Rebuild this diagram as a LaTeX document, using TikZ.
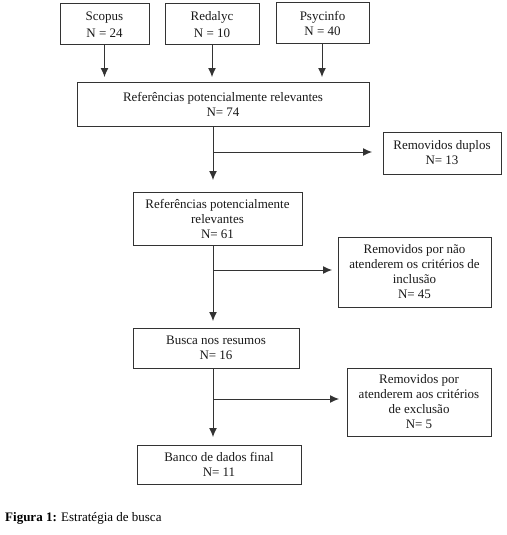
\documentclass[tikz,border=0pt]{standalone}
\usepackage{fontspec}
\setmainfont{Liberation Serif}
\usetikzlibrary{arrows.meta}
\begin{document}
\begin{tikzpicture}[x=1pt,y=-1pt,
  box/.style={draw=black!80, line width=1pt, align=center, inner sep=0pt,
    font=\fontsize{13}{15}\selectfont, text=black!90},
  conn/.style={draw=black!80, line width=1pt, -{Latex[length=9pt,width=8pt]}}]
\useasboundingbox (0,0) rectangle (506,535);
% top sources
\node[box, minimum width=89pt, minimum height=41pt] (sc) at (104.5,24.5) {Scopus\\[2.5pt]N = 24};
\node[box, minimum width=94pt, minimum height=41pt] (re) at (212,24.5) {Redalyc\\[2.5pt]N = 10};
\node[box, minimum width=93pt, minimum height=41pt] (ps) at (322.5,23.5) {Psycinfo\\N = 40};
\node[box, minimum width=292pt, minimum height=44pt] (r74) at (223,104) {Referências potencialmente relevantes\\N= 74};
\node[box, minimum width=118pt, minimum height=42pt] (dup) at (442,153) {Removidos duplos\\N= 13};
\node[box, minimum width=169pt, minimum height=53pt] (r61) at (217.5,218.5) {Referências potencialmente\\relevantes\\N= 61};
\node[box, minimum width=153pt, minimum height=70pt] (rm1) at (414.5,272) {Removidos por não\\atenderem os critérios de\\inclusão\\N= 45};
\node[box, minimum width=166pt, minimum height=40pt] (bu) at (216,348) {Busca nos resumos\\N= 16};
\node[box, minimum width=144pt, minimum height=68pt] (rm2) at (419,402) {Removidos por\\atenderem aos critérios\\de exclusão\\N= 5};
\node[box, minimum width=164pt, minimum height=39pt] (ba) at (219,464.5) {Banco de dados final\\N= 11};
% free ends
\coordinate (e1) at (104.5,77);
\coordinate (e2) at (212,77);
\coordinate (e3) at (322,77);
\coordinate (s1) at (213,180);
\coordinate (s2) at (213,321);
\coordinate (s3) at (213,437);
\coordinate (b1) at (213,152);
\coordinate (h1) at (372,152);
\coordinate (b2) at (213,270);
\coordinate (h2) at (332,270);
\coordinate (b3) at (213,399);
\coordinate (h3) at (339,399);
\draw[conn] (sc.south) -- (e1);
\draw[conn] (re.south) -- (e2);
\draw[conn] (ps.south -| e3) -- (e3);
\draw[conn] (r74.south -| s1) -- (s1);
\draw[conn] (b1) -- (h1);
\draw[conn] (r61.south -| s2) -- (s2);
\draw[conn] (b2) -- (h2);
\draw[conn] (bu.south -| s3) -- (s3);
\draw[conn] (b3) -- (h3);
% caption
\node[anchor=base west, inner sep=0pt, font=\fontsize{13}{15}\selectfont] (cap) at (5,521) {\textbf{Figura 1:} Estratégia de busca};
\end{tikzpicture}
\end{document}
